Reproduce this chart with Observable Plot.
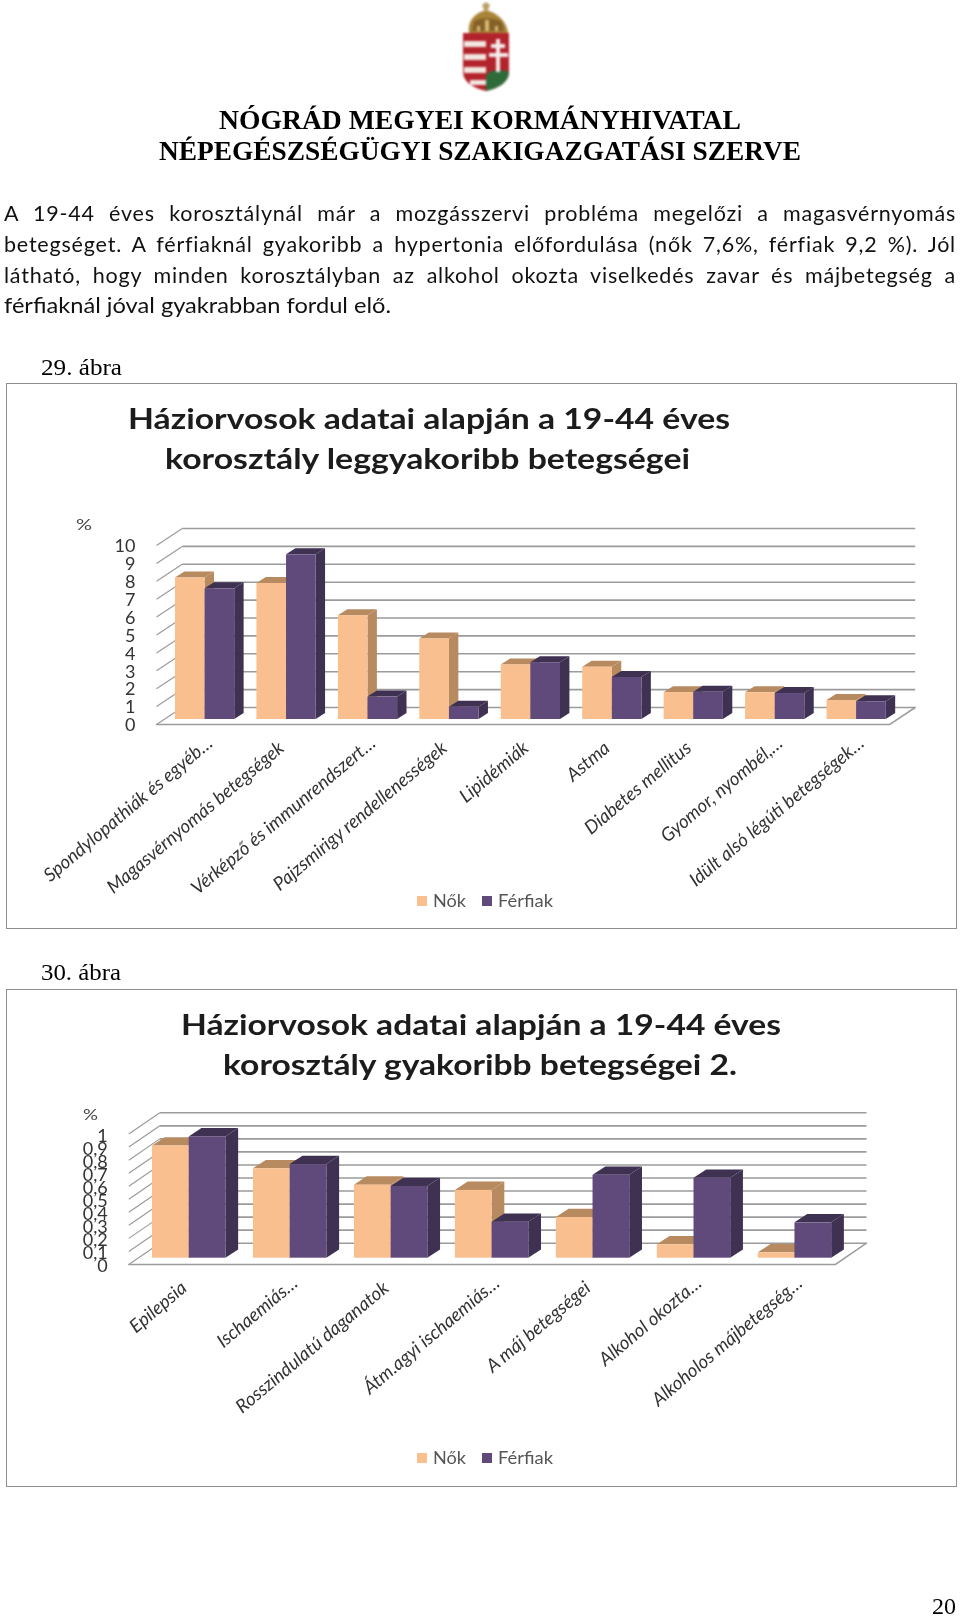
<!DOCTYPE html>
<html><head><meta charset="utf-8">
<script src="https://cdn.jsdelivr.net/npm/d3@7"></script>
<script src="https://cdn.jsdelivr.net/npm/@observablehq/plot@0.6"></script>
<style>
html,body{margin:0;padding:0;background:#fff}
#page{position:relative;width:960px;height:1618px;overflow:hidden;filter:blur(.45px)}
.t{position:absolute;white-space:nowrap;transform-origin:left center;line-height:1.2}
.box{position:absolute;box-sizing:border-box;left:6px;width:951px;border:1.5px solid #8f8f8f}
.plot{position:absolute;left:0}
.sw{position:absolute;width:10px;height:10px}
#crest{position:absolute;left:455px;top:0;filter:blur(.8px)}
.plot svg{display:block;background:transparent;overflow:visible}
</style></head><body>
<div id="page">
<svg id="crest" width="62" height="96" viewBox="0 0 62 96">
 <path d="M29 10 L27 5 L31 2 L35 5 L33 10 Z" fill="#b9a06a"/>
 <path d="M14 33 C12 22 19 13 31 10 C43 13 52 22 53 33 Z" fill="#a98436"/>
 <path d="M19 22 C24 17 38 17 47 22 L49 31 H17 Z" fill="#6e4f22" opacity=".65"/>
 <path d="M22 26 h3 v5 h-3z M30 20 h4 v11 h-4z M40 26 h3 v5 h-3z" fill="#d9b873"/>
 <path d="M8 33 H54 V72 C54 82 44 88 31 91 C18 88 8 82 8 72 Z" fill="#b3232c"/>
 <path d="M9 41 H31 V47 H9 Z M9 54 H31 V60 H9 Z M9 67 H31 V73 H9 Z M15 80 H31 V85 H15 Z" fill="#f2e6e0"/>
 <path d="M31 75 C38 68 48 70 54 72 C54 82 44 88 31 91 Z" fill="#2f6b3a"/>
 <path d="M41 39 H45 V44 H50 V48 H45 V53 H53 V57 H45 V72 H41 V57 H34 V53 H41 V48 H36 V44 H41 Z" fill="#f5ecec"/>
</svg>
<div id="c1"></div>
<div id="c2"></div>
</div>
<script>
const headerLines = ["NÓGRÁD MEGYEI KORMÁNYHIVATAL", "NÉPEGÉSZSÉGÜGYI SZAKIGAZGATÁSI SZERVE"];
const bodyLines = [
  "A 19-44 éves korosztálynál már a mozgásszervi probléma megelőzi a magasvérnyomás",
  "betegséget. A férfiaknál gyakoribb a hypertonia előfordulása (nők 7,6%, férfiak 9,2 %). Jól",
  "látható, hogy minden korosztályban az alkohol okozta viselkedés zavar és májbetegség a",
  "férfiaknál jóval gyakrabban fordul elő."
];
const figure1 = "29. ábra", figure2 = "30. ábra", pageNumber = "20";
const seriesNames = ["Nők", "Férfiak"];

const title1 = ["Háziorvosok adatai alapján a 19-44 éves", "korosztály leggyakoribb betegségei"];
const categories1 = ["Spondylopathiák és egyéb…","Magasvérnyomás betegségek","Vérképző és immunrendszert…","Pajzsmirigy rendellenességek","Lipidémiák","Astma","Diabetes mellitus","Gyomor, nyombél,…","Idült alsó légúti betegségek…"];
const women1 = [7.9, 7.6, 5.8, 4.5, 3.05, 2.92, 1.5, 1.49, 1.06];
const men1   = [7.3, 9.2, 1.25, 0.69, 3.17, 2.35, 1.52, 1.45, 0.99];
const ticks1 = [0,1,2,3,4,5,6,7,8,9,10];

const title2 = ["Háziorvosok adatai alapján a 19-44 éves", "korosztály gyakoribb betegségei 2."];
const categories2 = ["Epilepsia","Ischaemiás…","Rosszindulatú daganatok","Átm.agyi ischaemiás…","A máj betegségei","Alkohol okozta…","Alkoholos májbetegség…"];
const women2 = [0.86, 0.686, 0.56, 0.52, 0.312, 0.103, 0.041];
const men2   = [0.93, 0.718, 0.55, 0.276, 0.636, 0.613, 0.271];
const ticks2 = [0,0.1,0.2,0.3,0.4,0.5,0.6,0.7,0.8,0.9,1];

const colors = {w:"#FABF8F", wDark:"#B88A60", m:"#604A7B", mDark:"#3F3151", grid:"#9b9b9b"};
const page = document.getElementById("page");

function put(str, {x, y, w, font, color="#000", justify=false, spacing=0, lh=1.2}) {
  const el = document.createElement("div");
  el.className = "t";
  el.textContent = str;
  el.style.cssText += `left:${x}px;top:${y}px;font:${font};line-height:${lh};color:${color};letter-spacing:${spacing}px`;
  page.appendChild(el);
  if (justify) {
    el.style.width = w + "px";
    el.style.whiteSpace = "normal";
    el.style.textAlign = "justify";
    el.style.textAlignLast = "justify";
    el.style.transform = "translateY(-50%)";
  } else {
    const s = w ? w / el.getBoundingClientRect().width : 1;
    el.style.transform = `translateY(-50%) scaleX(${s})`;
  }
  return el;
}

function chart3d({host, boxTop, boxHeight, categories, women, men, ticks, xRange, yRange, yDomain, wall, bar, tickOpts, labelY}) {
  const n = categories.length;
  const bars = [];
  categories.forEach((c, i) => {
    const a = i + bar.offset, b = a + bar.w, e = b + bar.w;
    bars.push({id:"w"+i, s:"w", x1:a, x2:b, v:women[i]});
    bars.push({id:"m"+i, s:"m", x1:b, x2:e, v:men[i]});
  });
  const side = bars.flatMap(d => [
    {id:d.id, s:d.s, x:d.x2, y1:bar.base, y2:bar.base + d.v},
    {id:d.id, s:d.s, x:d.x2 + bar.dx, y1:bar.base + bar.dy, y2:bar.base + d.v + bar.dy}
  ]);
  const topFace = bars.flatMap(d => {
    const t = bar.base + d.v;
    return [
      {id:d.id, s:d.s, x:d.x1, y1:t, y2:t},
      {id:d.id, s:d.s, x:d.x1 + bar.dx, y1:t, y2:t + bar.dy},
      {id:d.id, s:d.s, x:d.x2, y1:t, y2:t + bar.dy},
      {id:d.id, s:d.s, x:d.x2 + bar.dx, y1:t + bar.dy, y2:t + bar.dy}
    ];
  });
  const series = s => [
    Plot.area(side.filter(d => d.s === s), {x1:"x", y1:"y1", y2:"y2", z:"id", fill:colors[s+"Dark"]}),
    Plot.area(topFace.filter(d => d.s === s), {x1:"x", y1:"y1", y2:"y2", z:"id", fill:colors[s+"Dark"]}),
    Plot.rect(bars.filter(d => d.s === s), {x1:"x1", x2:"x2", y1:bar.base, y2:d => bar.base + d.v, fill:colors[s]})
  ];
  const fl = yDomain[0] - wall.dy;
  const floor = [
    {x:0, y:fl},{x:n, y:fl},{x:n + wall.dx, y:yDomain[0]}
  ];
  const centers = categories.map((c, i) => ({c, x:i + bar.offset + bar.w}));
  const labelMark = (data, dx, dy) => Plot.text(data, {
    x:"x", y:fl, text:"c", rotate:-40, textAnchor:"end", lineAnchor:"middle",
    dx, dy:labelY + dy, fontSize:tickOpts.labelSize, fontStyle:"italic", fontFamily:"Lato", fill:"#333"
  });
  const plot = Plot.plot({
    width:960, height:boxHeight,
    marginLeft:xRange[0], marginRight:960 - xRange[1],
    marginTop:yRange[1] - boxTop, marginBottom:boxTop + boxHeight - yRange[0],
    x:{domain:[0, n], axis:null},
    y:{domain:yDomain, axis:null},
    style:{background:"transparent"},
    marks:[
      Plot.link(ticks, {x1:0, y1:d => d - wall.dy, x2:wall.dx, y2:d => d, stroke:colors.grid, strokeWidth:1.2}),
      Plot.link(ticks, {x1:wall.dx, y1:d => d, x2:n + wall.dx, y2:d => d, stroke:colors.grid, strokeWidth:1.6}),
      Plot.line(floor, {x:"x", y:"y", stroke:colors.grid, strokeWidth:1.5}),
      Plot.axisY(ticks, {anchor:"left", tickSize:0, tickPadding:tickOpts.pad, dy:tickOpts.dy, label:null,
        tickFormat:d => String(d).replace(".", ","), fontSize:tickOpts.size, fontFamily:"Lato", fill:"#333"}),
      ...series("w"),
      ...series("m"),
      labelMark(centers.filter(d => !d.c.endsWith("…")), tickOpts.lx, 0),
      labelMark(centers.filter(d => d.c.endsWith("…")), tickOpts.lx + 10, -5)
    ]
  });
  host.className = "plot";
  host.style.top = boxTop + "px";
  host.appendChild(plot);
  const box = document.createElement("div");
  box.className = "box";
  box.style.top = boxTop + "px";
  box.style.height = boxHeight + "px";
  page.insertBefore(box, page.firstChild);
}

put(headerLines[0], {x:219, y:120, w:522, font:"bold 28px 'Liberation Serif'"});
put(headerLines[1], {x:159, y:151, w:642, font:"bold 28px 'Liberation Serif'"});
[214,245,276,306].forEach((y,i) => {
  if (i < 3) put(bodyLines[i], {x:4, y, w:952, font:"21.5px Lato", color:"#111", justify:true, spacing:.8});
  else put(bodyLines[i], {x:4, y, w:387, font:"21.5px Lato", color:"#111"});
});
put(figure1, {x:41, y:368, w:81, font:"23px 'Liberation Serif'"});
put(figure2, {x:41, y:973, w:80, font:"23px 'Liberation Serif'"});
put(pageNumber, {x:932, y:1606, w:24, font:"23px 'Liberation Serif'", lh:1});

chart3d({host:document.getElementById("c1"), boxTop:383, boxHeight:546,
  categories:categories1, women:women1, men:men1, ticks:ticks1,
  xRange:[156,889], yRange:[707,528], yDomain:[0,10],
  wall:{dx:.3155, dy:.95},
  bar:{offset:.233, w:.3637, dx:.1155, dy:.335, base:-.67},
  tickOpts:{size:18, pad:21, dy:18, labelSize:18.6, lx:-5}, labelY:21});
chart3d({host:document.getElementById("c2"), boxTop:989, boxHeight:498,
  categories:categories2, women:women2, men:men2, ticks:ticks2,
  xRange:[128.3,835], yRange:[1242.7,1112.3], yDomain:[0,1],
  wall:{dx:.307, dy:.163},
  bar:{offset:.235, w:.3635, dx:.126, dy:.0637, base:-.115},
  tickOpts:{size:18, pad:21, dy:23, labelSize:18.6, lx:-5}, labelY:21});

const titleFont = "bold 29px Lato";
put(title1[0], {x:128, y:418, w:602, font:titleFont, color:"#1c1c1c"});
put(title1[1], {x:165, y:458, w:525, font:titleFont, color:"#1c1c1c"});
put(title2[0], {x:181, y:1024, w:600, font:titleFont, color:"#1c1c1c"});
put(title2[1], {x:223, y:1064, w:514, font:titleFont, color:"#1c1c1c"});
put("%", {x:76, y:524, w:16, font:"16px Lato", color:"#444"});
put("%", {x:83, y:1114, w:15, font:"16px Lato", color:"#444"});
[[901],[1458]].forEach(([y]) => {
  [[417,colors.w,433,33,0],[482,colors.m,498,55,1]].forEach(([sx,c,tx,tw,k]) => {
    const sw = document.createElement("div");
    sw.className = "sw";
    sw.style.cssText += `left:${sx}px;top:${y-5}px;background:${c}`;
    page.appendChild(sw);
    put(seriesNames[k], {x:tx, y, w:tw, font:"17px Lato", color:"#555"});
  });
});
</script>
</body></html>
